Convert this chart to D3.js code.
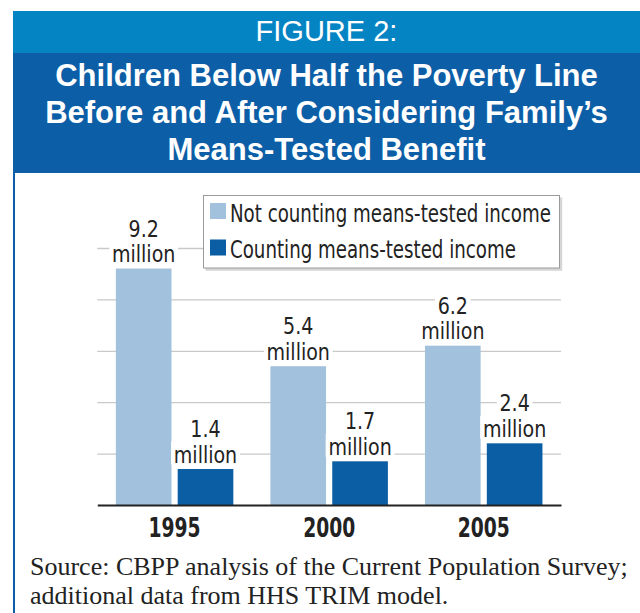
<!DOCTYPE html>
<html>
<head>
<meta charset="utf-8">
<script src="https://cdn.jsdelivr.net/npm/d3@7"></script>
<style>
  body { margin: 0; background: #fff; }
  svg { display: block; }
</style>
</head>
<body>
<script>
const years = ['1995', '2000', '2005'];
const notCounting = [9.2, 5.4, 6.2];
const counting = [1.4, 1.7, 2.4];
const seriesNames = ['Not counting means-tested income', 'Counting means-tested income'];
const yTicks = [2, 4, 6, 8, 10];
const figureLabel = 'FIGURE 2:';
const titleLines = ['Children Below Half the Poverty Line', 'Before and After Considering Family\u2019s', 'Means-Tested Benefit'];
const sourceLines = ['Source: CBPP analysis of the Current Population Survey;', 'additional data from HHS TRIM model.'];

const COLOR_BAND_LIGHT = '#0584c4';
const COLOR_BAND_DARK = '#0c5ea6';
const COLOR_BAR = ['#a2c1dc', '#0b5ea3'];
const COLOR_GRID = '#c9c9c9';
const COLOR_TEXT = '#222222';
const NARROW = "'DejaVu Sans Condensed', 'DejaVu Sans', sans-serif";

const W = 640, H = 613;
const PLOT_X1 = 97.3, PLOT_X2 = 561;
const PLOT_Y0 = 505, PLOT_Y1 = 248;

const svg = d3.select('body').append('svg')
    .attr('width', W)
    .attr('height', H);

// Header bands
svg.append('rect').attr('x', 13).attr('y', 11).attr('width', W - 13).attr('height', 42).attr('fill', COLOR_BAND_LIGHT);
svg.append('rect').attr('x', 13).attr('y', 53).attr('width', W - 13).attr('height', 120).attr('fill', COLOR_BAND_DARK);
// Left frame line
svg.append('rect').attr('x', 13).attr('y', 172).attr('width', 2).attr('height', H - 172).attr('fill', COLOR_BAND_DARK);

const CX = 326.5;
svg.append('text')
    .attr('x', CX).attr('y', 41)
    .attr('text-anchor', 'middle')
    .attr('font-family', "'Liberation Sans', Arial, sans-serif")
    .attr('font-size', 29)
    .attr('fill', 'white')
    .text(figureLabel);

svg.selectAll('.title-line')
    .data(titleLines)
    .join('text')
    .attr('class', 'title-line')
    .attr('x', CX)
    .attr('y', (d, i) => 86 + i * 37)
    .attr('text-anchor', 'middle')
    .attr('font-family', "'Liberation Sans', Arial, sans-serif")
    .attr('font-weight', 'bold')
    .attr('font-size', 31)
    .attr('fill', 'white')
    .text(d => d);

// Scales
const x0 = d3.scaleBand().domain(years).range([PLOT_X1, PLOT_X2]).paddingInner(0.24).paddingOuter(0.12);
const x1 = d3.scaleBand().domain([0, 1]).range([0, x0.bandwidth()]).paddingInner(0.1);
const y = d3.scaleLinear().domain([0, 10]).range([PLOT_Y0, PLOT_Y1]);

// Gridlines
const grid = svg.append('g')
    .attr('transform', `translate(${PLOT_X1},0)`)
    .call(d3.axisLeft(y).tickValues(yTicks).tickSize(-(PLOT_X2 - PLOT_X1)).tickFormat(''));
grid.select('.domain').remove();
grid.selectAll('.tick line').attr('stroke', COLOR_GRID).attr('stroke-width', 1.3);

// Legend
const legend = svg.append('g');
legend.append('rect')
    .attr('x', 205.5).attr('y', 197.5).attr('width', 356.7).attr('height', 73.3)
    .attr('fill', '#d6d6d6');
legend.append('rect')
    .attr('x', 203.5).attr('y', 195.5).attr('width', 356).attr('height', 72.5)
    .attr('fill', 'white').attr('stroke', '#9a9a9a').attr('stroke-width', 1);
seriesNames.forEach((name, i) => {
    legend.append('rect')
        .attr('x', 210).attr('y', 203 + i * 36.5).attr('width', 16).attr('height', 16)
        .attr('fill', COLOR_BAR[i]);
    legend.append('g')
        .attr('transform', `translate(230,${221.5 + i * 36.5}) scale(0.81,1)`)
        .append('text')
        .attr('font-family', NARROW)
        .attr('font-size', 25)
        .attr('fill', COLOR_TEXT)
        .text(name);
});

// Bars
const rows = years.map((yr, i) => ({ year: yr, values: [notCounting[i], counting[i]] }));
const groups = svg.selectAll('.grp')
    .data(rows)
    .join('g')
    .attr('class', 'grp')
    .attr('transform', d => `translate(${x0(d.year)},0)`);

groups.selectAll('rect')
    .data(d => d.values.map((v, k) => ({ v, k })))
    .join('rect')
    .attr('x', d => x1(d.k))
    .attr('y', d => y(d.v))
    .attr('width', x1.bandwidth())
    .attr('height', d => y(0) - y(d.v))
    .attr('fill', d => COLOR_BAR[d.k]);

// Value labels with white backing that cuts the gridlines
const labels = groups.selectAll('.lbl')
    .data(d => d.values.map((v, k) => ({ v, k })))
    .join('g')
    .attr('class', 'lbl')
    .attr('transform', d => `translate(${x1(d.k) + x1.bandwidth() / 2},${y(d.v) - 6.5}) scale(0.9,1)`);

labels.each(function(d) {
    const g = d3.select(this);
    const bg1 = g.append('rect').attr('fill', 'white');
    const bg2 = g.append('rect').attr('fill', 'white');
    const t1 = g.append('text')
        .attr('y', -25.5)
        .attr('text-anchor', 'middle')
        .attr('font-family', NARROW)
        .attr('font-size', 23.5)
        .attr('fill', COLOR_TEXT)
        .text(d3.format('.1f')(d.v));
    const t2 = g.append('text')
        .attr('y', 0)
        .attr('text-anchor', 'middle')
        .attr('font-family', NARROW)
        .attr('font-size', 23.5)
        .attr('fill', COLOR_TEXT)
        .text('million');
    const w1 = t1.node().getComputedTextLength();
    const w2 = t2.node().getComputedTextLength();
    const pad = 3;
    bg1.attr('x', -w1 / 2 - pad).attr('y', -44).attr('width', w1 + 2 * pad).attr('height', 21);
    bg2.attr('x', -w2 / 2 - pad).attr('y', -21).attr('width', w2 + 2 * pad).attr('height', 23);
});

// X axis (baseline + year labels)
const xAxis = svg.append('g')
    .attr('transform', `translate(0,${PLOT_Y0})`)
    .call(d3.axisBottom(x0).tickSize(0).tickPadding(8).tickSizeOuter(0));
xAxis.select('.domain').attr('stroke', COLOR_TEXT).attr('stroke-width', 2);
xAxis.selectAll('.tick text')
    .attr('dy', null)
    .attr('y', 32)
    .attr('transform', 'scale(0.8,1)')
    .attr('font-family', NARROW)
    .attr('font-weight', 'bold')
    .attr('font-size', 26)
    .attr('fill', COLOR_TEXT);

// Source note
svg.selectAll('.src')
    .data(sourceLines)
    .join('text')
    .attr('class', 'src')
    .attr('x', 30)
    .attr('y', (d, i) => 575 + i * 28.5)
    .attr('font-family', "'Liberation Serif', 'DejaVu Serif', serif")
    .attr('font-size', 26)
    .attr('fill', COLOR_TEXT)
    .text(d => d);
</script>
</body>
</html>
